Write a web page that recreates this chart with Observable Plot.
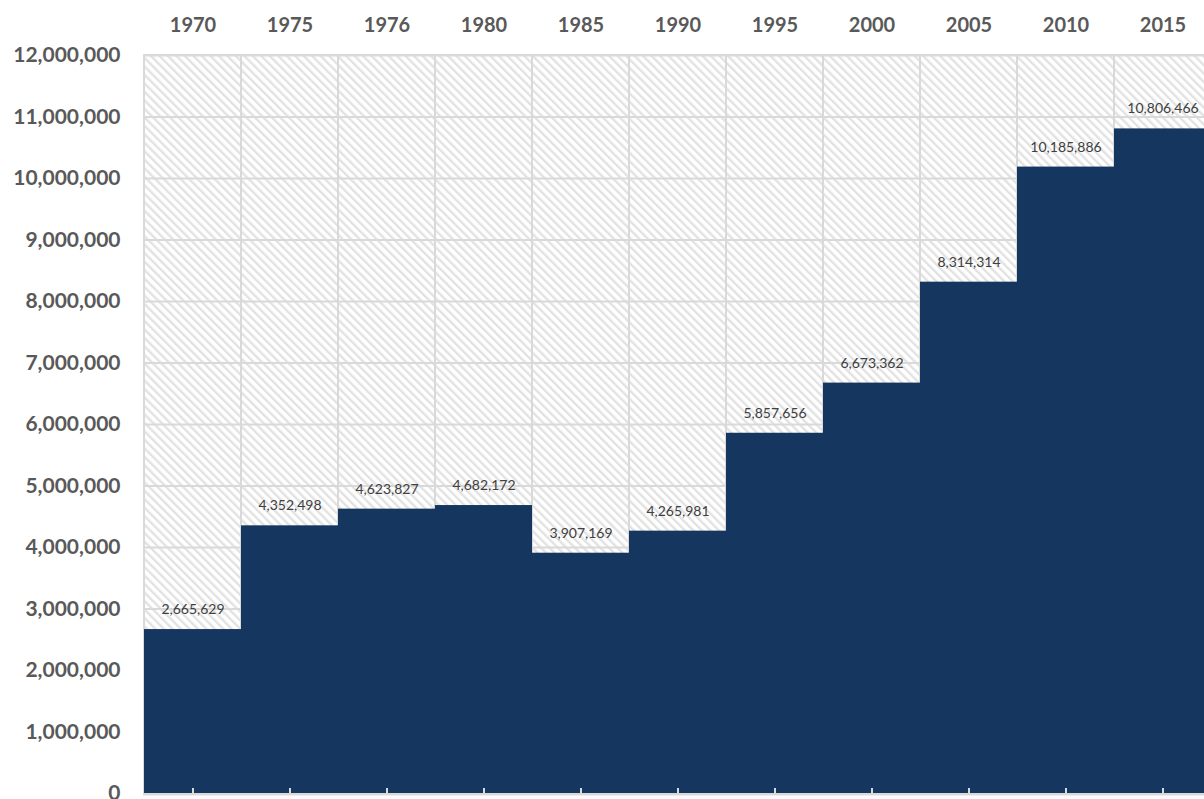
<!DOCTYPE html>
<html>
<head>
<meta charset="utf-8">
<script src="https://cdn.jsdelivr.net/npm/d3@7"></script>
<script src="https://cdn.jsdelivr.net/npm/@observablehq/plot@0.6"></script>
<style>
  html, body { margin: 0; padding: 0; background: #fff; overflow: hidden; }
  #chart svg { overflow: hidden; }
</style>
</head>
<body>
<div id="chart"></div>
<script>
const years = ["1970", "1975", "1976", "1980", "1985", "1990", "1995", "2000", "2005", "2010", "2015"];
const values = [2665629, 4352498, 4623827, 4682172, 3907169, 4265981, 5857656, 6673362, 8314314, 10185886, 10806466];
const yTicks = [0, 1000000, 2000000, 3000000, 4000000, 5000000, 6000000, 7000000, 8000000, 9000000, 10000000, 11000000, 12000000];
const yMax = 12000000;

const data = years.map((year, i) => ({year, value: values[i]}));
const fmt = d3.format(",");

const chart = Plot.plot({
  width: 1204,
  height: 799,
  marginTop: 55,
  marginLeft: 143,
  marginRight: 0,
  marginBottom: 6,
  style: {fontFamily: "Lato, sans-serif", background: "#fff", overflow: "hidden"},
  x: {type: "band", domain: years, range: [142, 1212], padding: 0},
  y: {domain: [0, yMax], range: [793, 55]},
  marks: [
    Plot.barY(data, {x: "year", y: () => yMax, fill: "url(#hatch)", stroke: "#d9d9d9", strokeWidth: 2, inset: 0}),
    Plot.ruleY(yTicks.slice(1), {stroke: "#d9d9d9", strokeWidth: 2, strokeOpacity: 1}),
    Plot.barY(data, {x: "year", y: "value", fill: "#14365f", inset: 0}),
    Plot.ruleY([0], {stroke: "#d9d9d9", strokeWidth: 2, dy: 1}),
    Plot.text(data, {x: "year", y: "value", text: d => fmt(d.value), dy: -20, fontSize: 14, fill: "#404040", textAnchor: "middle", lineAnchor: "middle"}),
    Plot.axisX({anchor: "top", tickSize: 0, tickPadding: 24, fontSize: 20, fontWeight: "bold", fill: "#595959", label: null}),
    Plot.axisX({anchor: "bottom", tickSize: -5, text: null, stroke: "#d9d9d9", strokeWidth: 2, strokeOpacity: 1, label: null}),
    Plot.axisY({ticks: yTicks, tickSize: 0, tickPadding: 23, tickFormat: fmt, fontSize: 21, fontWeight: "bold", fill: "#595959", label: null})
  ]
});

const ns = "http://www.w3.org/2000/svg";
const defs = document.createElementNS(ns, "defs");
const pat = document.createElementNS(ns, "pattern");
pat.setAttribute("id", "hatch");
pat.setAttribute("patternUnits", "userSpaceOnUse");
pat.setAttribute("width", "6");
pat.setAttribute("height", "6");
pat.setAttribute("patternTransform", "rotate(-45)");
const bg = document.createElementNS(ns, "rect");
bg.setAttribute("width", "6");
bg.setAttribute("height", "6");
bg.setAttribute("fill", "#ffffff");
pat.appendChild(bg);
const ln = document.createElementNS(ns, "rect");
ln.setAttribute("x", "0");
ln.setAttribute("y", "0");
ln.setAttribute("width", "2.4");
ln.setAttribute("height", "6");
ln.setAttribute("fill", "#e2e2e2");
pat.appendChild(ln);
defs.appendChild(pat);
chart.insertBefore(defs, chart.firstChild);

document.getElementById("chart").appendChild(chart);
</script>
</body>
</html>
